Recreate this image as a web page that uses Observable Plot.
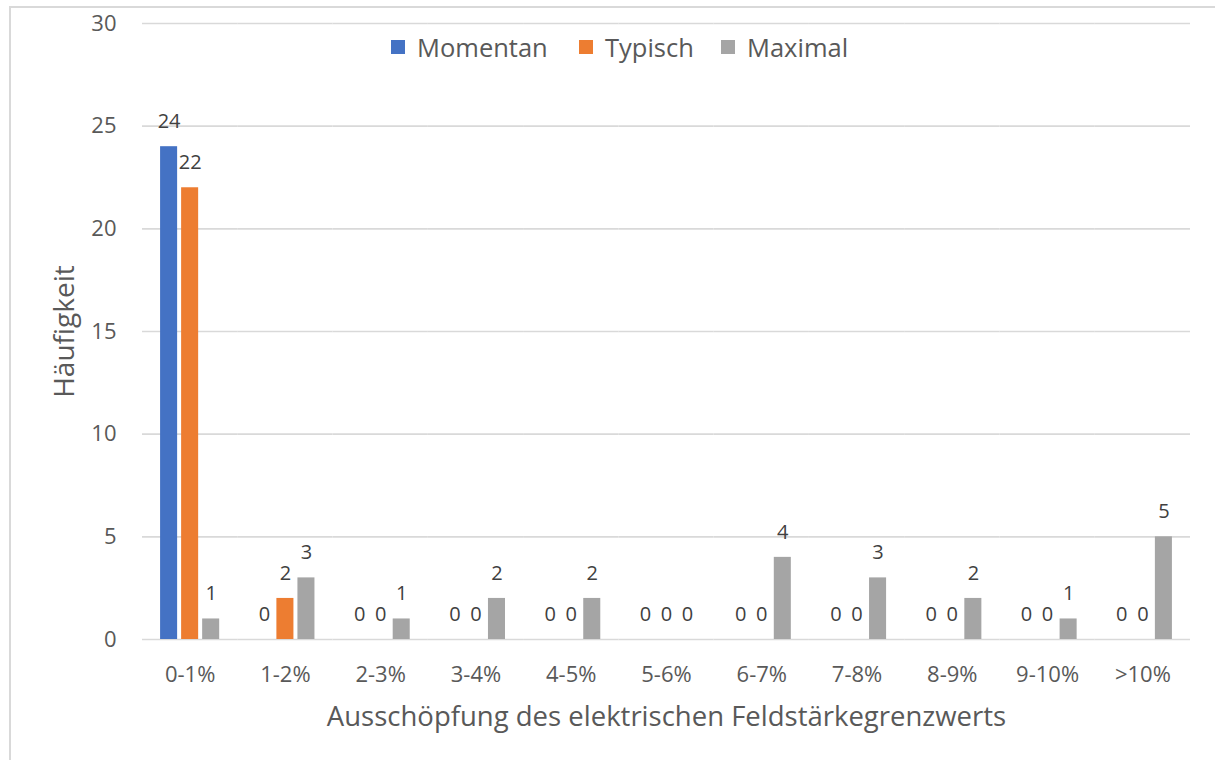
<!DOCTYPE html>
<html><head><meta charset="utf-8">
<script src="https://cdn.jsdelivr.net/npm/d3@7"></script>
<script src="https://cdn.jsdelivr.net/npm/@observablehq/plot@0.6"></script>
<style>
body{margin:0;background:#fff;font-family:"Open Sans",sans-serif;}
#wrap{position:relative;width:1215px;height:760px;overflow:hidden;background:#fff}
#frame{position:absolute;left:9px;top:6px;width:1400px;height:900px;border:2px solid #d9d9d9;box-sizing:border-box;pointer-events:none}
#chart{position:absolute;left:0;top:0}
.leg{position:absolute;top:30px;display:flex;align-items:center;font-size:25.5px;color:#595959;white-space:nowrap}
.leg span.sw{display:inline-block;width:14px;height:14px;margin-right:12px}
</style>
</head><body>
<div id="wrap"><div id="frame"></div><div id="chart"></div><div id="legend"></div></div>
<script>
const categories = ["0-1%","1-2%","2-3%","3-4%","4-5%","5-6%","6-7%","7-8%","8-9%","9-10%",">10%"];
const series = ["Momentan","Typisch","Maximal"];
const momentan = [24,0,0,0,0,0,0,0,0,0,0];
const typisch  = [22,2,0,0,0,0,0,0,0,0,0];
const maximal  = [1,3,1,2,2,0,4,3,2,1,5];
const colors = ["#4472C4","#ED7D31","#A5A5A5"];
const yTicks = [0,5,10,15,20,25,30];
const yTitle = "Häufigkeit";
const xTitle = "Ausschöpfung des elektrischen Feldstärkegrenzwerts";
const legendLeft = [391, 579, 721];

const seriesValues = [momentan, typisch, maximal];
const data = [];
categories.forEach((c, i) => series.forEach((s, j) => data.push({cat: c, series: s, value: seriesValues[j][i]})));

const chart = Plot.plot({
  width: 1215, height: 760,
  marginTop: 23, marginBottom: 121, marginLeft: 142, marginRight: 25,
  style: {fontFamily: "'Open Sans', sans-serif", color: "#595959", background: "transparent", overflow: "visible"},
  fx: {domain: categories, padding: 0, round: false, label: null},
  x: {domain: series, paddingInner: 0.19, paddingOuter: 0.86, round: false, axis: null},
  y: {domain: [0, 30], label: null},
  color: {domain: series, range: colors},
  marks: [
    Plot.gridY({ticks: yTicks, stroke: "#d9d9d9", strokeOpacity: 1, strokeWidth: 1.6}),
    Plot.axisY({ticks: yTicks, tickSize: 0, tickPadding: 26, fontSize: 22, label: null, fill: "#595959"}),
    Plot.axisFx({anchor: "bottom", tickSize: 0, tickPadding: 27, fontSize: 22, label: null, fill: "#595959"}),
    Plot.barY(data, {fx: "cat", x: "series", y: "value", fill: "series"}),
    Plot.text(data, {fx: "cat", x: "series", y: "value", text: d => String(d.value), dy: -25, fontSize: 20, fill: "#404040"}),
    Plot.text([yTitle], {facet: "super", frameAnchor: "left", textAnchor: "middle", lineAnchor: "middle", rotate: -90, dx: -77, fontSize: 28, fill: "#595959"}),
    Plot.text([xTitle], {facet: "super", frameAnchor: "bottom", textAnchor: "middle", lineAnchor: "middle", dy: 78, fontSize: 27.5, fill: "#595959"})
  ]
});
document.getElementById("chart").appendChild(chart);

const legend = document.getElementById("legend");
series.forEach((s, j) => {
  const item = document.createElement("div");
  item.className = "leg";
  item.style.left = legendLeft[j] + "px";
  const sw = document.createElement("span");
  sw.className = "sw";
  sw.style.background = colors[j];
  item.appendChild(sw);
  item.appendChild(document.createTextNode(s));
  legend.appendChild(item);
});
</script>
</body></html>
